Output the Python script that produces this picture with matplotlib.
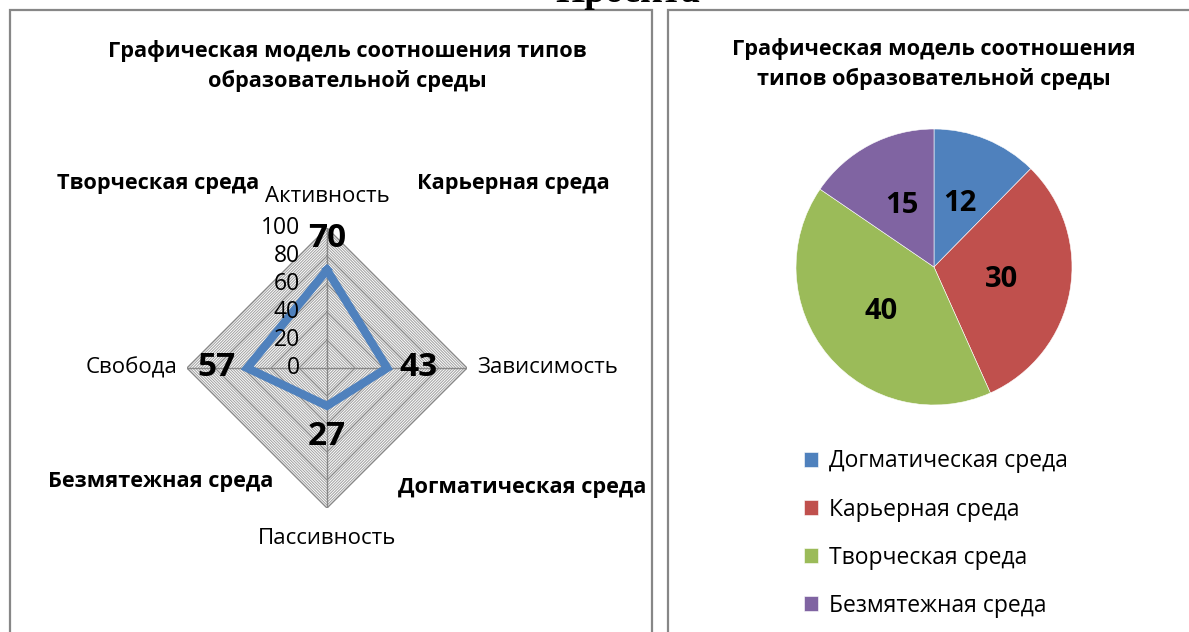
import numpy as np
import matplotlib.pyplot as plt
import matplotlib.transforms as mtransforms
from matplotlib.patches import Rectangle

# данные лепестковой диаграммы
radar_axes = ["Активность", "Зависимость", "Пассивность", "Свобода"]
radar_values = [70, 43, 27, 57]
radar_ticks = [0, 20, 40, 60, 80, 100]
corner_labels = ["Творческая среда", "Карьерная среда",
                 "Догматическая среда", "Безмятежная среда"]

# данные круговой диаграммы
pie_names = ["Догматическая среда", "Карьерная среда",
             "Творческая среда", "Безмятежная среда"]
pie_values = [12, 30, 40, 15]
pie_colors = ["#4F81BD", "#C0504D", "#9BBB59", "#8064A2"]

title_lines = "Графическая модель соотношения типов\nобразовательной среды"
title_lines_r = "Графическая модель соотношения\nтипов образовательной среды"

plt.rcParams['font.family'] = ['Open Sans', 'DejaVu Sans']

W, H = 1189, 632
fig = plt.figure(figsize=(W / 100, H / 100), dpi=100)


def box(x, y_top, w, h):
    # пиксели -> доли фигуры
    return [x / W, 1 - (y_top + h) / H, w / W, h / H]


def fx(x):
    return x / W


def fy(y):
    return 1 - y / H


# рамки панелей
fig.patches.append(Rectangle((fx(10), fy(640)), fx(642), fy(10) - fy(640),
                             transform=fig.transFigure, fill=False,
                             edgecolor="#878787", lw=1.6))
fig.patches.append(Rectangle((fx(668), fy(640)), fx(560), fy(10) - fy(640),
                             transform=fig.transFigure, fill=False,
                             edgecolor="#878787", lw=1.6))

# обрезанный заголовок сверху
fig.text(fx(628), fy(2), "Проекта", family="Liberation Serif",
         fontweight="bold", fontsize=27, ha="center", va="baseline")

# ---------- лепестковая диаграмма ----------
ax = fig.add_axes(box(187, 228, 280, 280), projection="polar")
ax.set_theta_offset(np.pi / 2)
ax.set_theta_direction(-1)
ax.set_ylim(0, 100)
ax.grid(False)
ax.spines["polar"].set_visible(False)
ax.set_xticks([])
ax.set_yticks([])
ax.patch.set_alpha(0)

angles = np.arange(len(radar_axes)) * 2 * np.pi / len(radar_axes)
closed = np.append(angles, angles[0])

for r in range(2, 101, 2):
    major = r % 20 == 0
    ax.plot(closed, [r] * len(closed),
            color="#888888" if major else "#a4a4a4",
            lw=1.0 if major else 0.75, zorder=1)
for a in angles:
    ax.plot([a, a], [0, 100], color="#888888", lw=1.0, zorder=2)

vals = radar_values + radar_values[:1]
ax.plot(closed, vals, color="#4F81BD", lw=6, solid_joinstyle="miter",
        zorder=3)

# подписи осей и значений
dirs = [(0, 1), (1, 0), (0, -1), (-1, 0)]
for a, name, v, (dx, dy) in zip(angles, radar_axes, radar_values, dirs):
    off = mtransforms.offset_copy(ax.transData, fig, x=dx * 31, y=dy * 31,
                                  units="dots")
    ax.text(a, v, str(v), transform=off, ha="center", va="center",
            fontsize=24, fontweight="bold", zorder=4)
    if dx == 0:
        off2 = mtransforms.offset_copy(ax.transData, fig, x=0, y=dy * 31,
                                       units="dots")
        ax.text(a, 100, name, transform=off2, ha="center", va="center",
                fontsize=16)
    else:
        off2 = mtransforms.offset_copy(ax.transData, fig, x=dx * 10, y=0,
                                       units="dots")
        ax.text(a, 100, name, transform=off2,
                ha="left" if dx > 0 else "right", va="center", fontsize=16)

offt = mtransforms.offset_copy(ax.transData, fig, x=-27, y=0, units="dots")
for t in radar_ticks:
    ax.text(0, t, str(t), transform=offt, ha="right", va="center",
            fontsize=16.5)

fig.text(fx(347), fy(66), title_lines, ha="center", va="center",
         fontsize=15.7, fontweight="bold", linespacing=1.45)

corner_pos = [(158, 183), (513, 183), (522, 487), (161, 481)]
for (x, y), s in zip(corner_pos, corner_labels):
    fig.text(fx(x), fy(y), s, ha="center", va="center", fontsize=15.7,
             fontweight="bold")

# ---------- круговая диаграмма ----------
ax2 = fig.add_axes(box(796, 129, 276, 276))
total = sum(pie_values)
wedges, _, autotexts = ax2.pie(pie_values, colors=pie_colors, startangle=90,
                               counterclock=False, pctdistance=0.5,
                               autopct=lambda p: f"{p * total / 100:.0f}",
                               wedgeprops=dict(edgecolor="white", lw=0.4),
                               textprops=dict(fontsize=21, fontweight="bold"))
ax2.set_xlim(-1, 1)
ax2.set_ylim(-1, 1)

fig.text(fx(934), fy(64), title_lines_r, ha="center", va="center",
         fontsize=15.7, fontweight="bold", linespacing=1.45)

fig.legend(wedges, pie_names, loc="upper left",
           bbox_to_anchor=(fx(793), fy(438)), frameon=False, fontsize=16.5,
           handlelength=0.6, handleheight=0.6, handletextpad=0.45,
           labelspacing=1.05, borderpad=0)

fig.savefig("out.png", dpi=100)
